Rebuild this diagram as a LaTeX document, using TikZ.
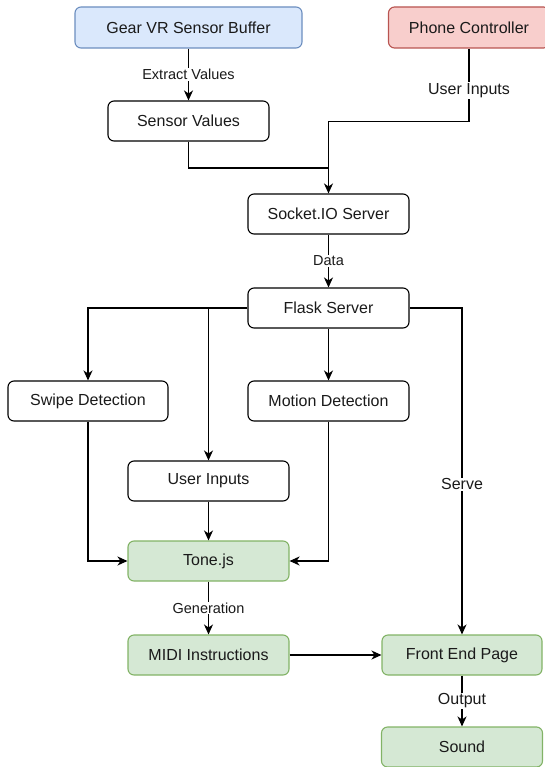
\documentclass[tikz,border=0pt]{standalone}
\usepackage{fontspec}
\setmainfont{Liberation Sans}
\usetikzlibrary{arrows.meta}
\definecolor{bluefill}{HTML}{DAE8FC}
\definecolor{bluedraw}{HTML}{6C8EBF}
\definecolor{redfill}{HTML}{F8CECC}
\definecolor{reddraw}{HTML}{B85450}
\definecolor{greenfill}{HTML}{D5E8D4}
\definecolor{greendraw}{HTML}{82B366}
\definecolor{txt}{HTML}{1A1A1A}
\tikzset{
  box/.style={draw=black, fill=white, rounded corners=6pt, line width=1.1pt,
    minimum width=161pt, minimum height=40pt, inner sep=0pt,
    font=\fontsize{16}{19}\selectfont, text=txt},
  bluebox/.style={box, fill=bluefill, draw=bluedraw},
  redbox/.style={box, fill=redfill, draw=reddraw},
  greenbox/.style={box, fill=greenfill, draw=greendraw},
  conn/.style={line width=1.2pt, draw=black},
  arr/.style={conn, -{Stealth[length=10pt,width=9pt,inset=3pt]}},
  smalllbl/.style={fill=white, inner sep=1pt, font=\fontsize{14.5}{17}\selectfont, text=txt},
  biglbl/.style={fill=white, inner sep=1pt, font=\fontsize{16}{19}\selectfont, text=txt},
}
\begin{document}
\begin{tikzpicture}[x=1pt, y=-1pt]
\useasboundingbox (0,0) rectangle (544,767);

\node[bluebox, minimum width=227pt, minimum height=41pt] (gear) at (188.5,27.5) {Gear VR Sensor Buffer};
\node[redbox, minimum height=41pt] (phone) at (469,27.5) {Phone Controller};
\node[box] (sensor) at (188.5,121) {Sensor Values};
\node[box] (socket) at (328.5,214) {Socket.IO Server};
\node[box] (flask) at (328.5,308) {Flask Server};
\node[box, minimum width=160pt] (swipe) at (88,401) {Swipe Detection};
\node[box] (motion) at (328.5,401) {Motion Detection};
\node[box] (userin) at (208.5,481) {User Inputs};
\node[greenbox] (tone) at (208.5,561) {Tone.js};
\node[greenbox] (midi) at (208.5,655) {MIDI Instructions};
\node[greenbox, minimum width=160pt] (front) at (462,655) {Front End Page};
\node[greenbox] (sound) at (462,747) {Sound};

\coordinate (join) at (328.5,168);

\draw[arr] (gear) -- node[smalllbl]{Extract Values} (sensor);
\draw[conn] (sensor.south) |- (join);
\draw[arr] (phone.south) -- node[biglbl, pos=0.575]{User Inputs} ++(0,73) -| (socket.north);
\draw[arr] (socket) -- node[smalllbl]{Data} (flask);

\draw[arr] (flask.west) -| (swipe.north);
\draw[arr] (flask.west -| userin.north) -- (userin.north);
\draw[arr] (flask) -- (motion);
\draw[arr] (flask.east) -| node[biglbl, pos=0.77]{Serve} (front.north);

\draw[arr] (swipe.south) |- (tone.west);
\draw[arr] (motion.south) |- (tone.east);
\draw[arr] (userin) -- (tone);
\draw[arr] (tone) -- node[smalllbl]{Generation} (midi);
\draw[arr] (midi) -- (front);
\draw[arr] (front) -- node[biglbl]{Output} (sound);
\end{tikzpicture}
\end{document}
